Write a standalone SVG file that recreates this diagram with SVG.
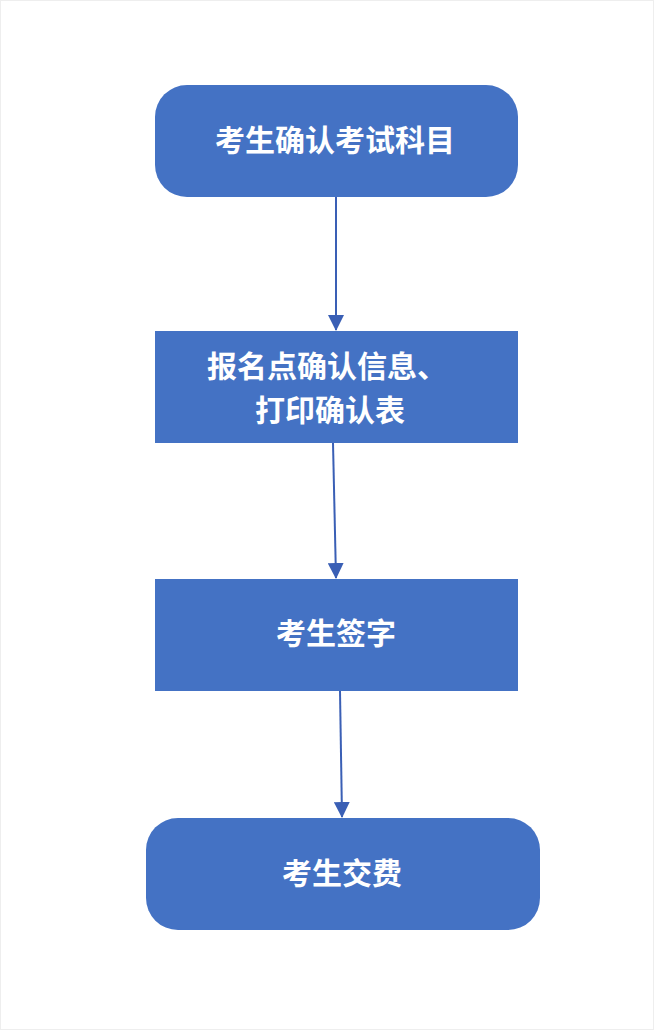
<svg xmlns="http://www.w3.org/2000/svg" width="654" height="1030" viewBox="0 0 654 1030">
<style>
.n{fill:#4472C4;}
.t{fill:#fff;font-family:"Noto Sans CJK SC",sans-serif;font-weight:bold;font-size:30px;}
.c{stroke:#3A5FB5;stroke-width:2;fill:none;marker-end:url(#a);}
</style>
<defs><marker id="a" markerWidth="16" markerHeight="16" refX="15" refY="8" orient="auto" markerUnits="userSpaceOnUse"><path d="M0,0 L16,8 L0,16 z" fill="#3A5FB5"/></marker></defs>
<rect x="0" y="0" width="654" height="1030" fill="#fff"/>
<rect x="0.5" y="0.5" width="653" height="1029" fill="none" stroke="#eee"/>
<g id="connectors">
<line class="c" x1="336" y1="197" x2="336" y2="330"/>
<line class="c" x1="333" y1="443" x2="336" y2="578"/>
<line class="c" x1="340" y1="691" x2="342" y2="817"/>
</g>
<g id="n1"><rect class="n" x="155" y="85" width="363" height="112" rx="32"/><text class="t" x="335" y="151" text-anchor="middle">考生确认考试科目</text></g>
<g id="n2"><rect class="n" x="155" y="331" width="363" height="112"/><text class="t" x="207" y="377">报名点确认信息、</text><text class="t" x="255" y="421">打印确认表</text></g>
<g id="n3"><rect class="n" x="155" y="579" width="363" height="112"/><text class="t" x="336" y="644" text-anchor="middle">考生签字</text></g>
<g id="n4"><rect class="n" x="146" y="818" width="394" height="112" rx="32"/><text class="t" x="342" y="884" text-anchor="middle">考生交费</text></g>
</svg>
